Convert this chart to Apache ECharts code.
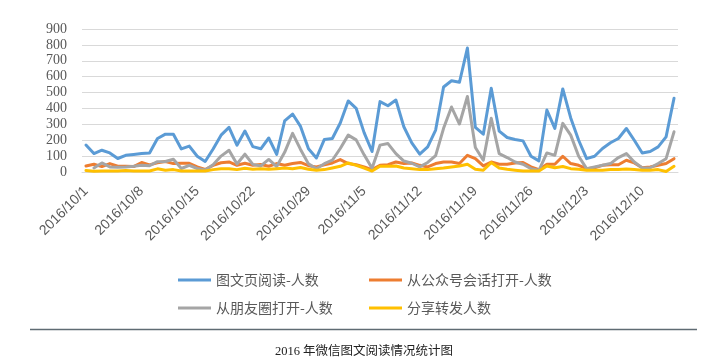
<!DOCTYPE html>
<html>
<head>
<meta charset="utf-8">
<script src="https://cdn.jsdelivr.net/npm/echarts@6/dist/echarts.min.js"></script>
<style>
html,body{margin:0;padding:0;background:#fff;}
#chart{width:721px;height:362px;}
</style>
</head>
<body>
<div id="chart"></div>
<script>
var categories = [
'2016/10/1','2016/10/2','2016/10/3','2016/10/4','2016/10/5','2016/10/6','2016/10/7','2016/10/8','2016/10/9','2016/10/10',
'2016/10/11','2016/10/12','2016/10/13','2016/10/14','2016/10/15','2016/10/16','2016/10/17','2016/10/18','2016/10/19','2016/10/20',
'2016/10/21','2016/10/22','2016/10/23','2016/10/24','2016/10/25','2016/10/26','2016/10/27','2016/10/28','2016/10/29','2016/10/30',
'2016/10/31','2016/11/1','2016/11/2','2016/11/3','2016/11/4','2016/11/5','2016/11/6','2016/11/7','2016/11/8','2016/11/9',
'2016/11/10','2016/11/11','2016/11/12','2016/11/13','2016/11/14','2016/11/15','2016/11/16','2016/11/17','2016/11/18','2016/11/19',
'2016/11/20','2016/11/21','2016/11/22','2016/11/23','2016/11/24','2016/11/25','2016/11/26','2016/11/27','2016/11/28','2016/11/29',
'2016/11/30','2016/12/1','2016/12/2','2016/12/3','2016/12/4','2016/12/5','2016/12/6','2016/12/7','2016/12/8','2016/12/9',
'2016/12/10','2016/12/11','2016/12/12','2016/12/13','2016/12/14'
];
var seriesNames = ['图文页阅读-人数','从公众号会话打开-人数','从朋友圈打开-人数','分享转发人数'];
var readers = [170,116,137,120,85,105,110,116,120,211, 238,238,145,163,99,66,145,232,281,169, 258,160,146,214,111,321,365,287,146,88, 205,211,308,447,401,248,129,443,417,453, 285,183,112,158,264,535,574,565,780,281, 238,527,257,217,205,196,99,70,390,274, 523,340,200,84,99,148,184,211,274,200, 120,129,158,221,464];
var fromSession = [38,49,34,53,36,36,34,60,45,58, 66,53,55,55,32,16,42,58,63,42, 55,42,47,36,53,42,53,60,40,32, 45,57,78,53,46,32,15,42,46,63, 53,57,42,32,53,63,63,53,105,84, 38,63,49,49,57,60,32,15,49,49, 99,53,42,21,27,42,46,46,74,57, 27,32,42,53,84];
var fromMoments = [null,25,57,32,30,32,36,42,40,65, 66,80,22,42,22,12,45,100,137,50, 112,48,38,79,34,124,243,142,51,20, 52,74,148,232,202,108,23,169,179,116, 69,55,32,60,103,275,409,302,475,154, 74,338,116,91,63,49,21,11,120,105, 306,232,99,21,32,42,53,91,116,63, 25,27,53,84,253];
var shares = [10,5,6,6,6,10,6,6,6,20, 11,15,6,6,6,6,15,21,21,15, 23,17,20,17,21,25,21,28,17,11, 15,25,36,57,42,25,6,36,36,38, 25,21,15,15,21,25,32,38,49,17, 11,59,25,17,11,6,6,6,38,27, 35,21,17,11,11,11,15,15,19,15, 11,11,15,3,36];
var yTicks = [0,100,200,300,400,500,600,700,800,900];
var caption = '2016 年微信图文阅读情况统计图';

var colors = ['#5b9bd5','#ed7d31','#a5a5a5','#ffc000'];
var values = [readers, fromSession, fromMoments, shares];

var chart = echarts.init(document.getElementById('chart'), null, {renderer:'canvas'});
var legendText = {fontSize:14, color:'#595959', fontFamily:'"Noto Sans CJK SC", sans-serif'};
var option = {
  animation:false,
  backgroundColor:'#ffffff',
  color: colors,
  grid:{left:82,right:43,top:29,bottom:190,outerBoundsMode:'none',containLabel:false},
  xAxis:{
    type:'category',
    data:categories,
    boundaryGap:true,
    axisLine:{show:true,lineStyle:{color:'#d9d9d9',width:1}},
    axisTick:{show:false},
    axisLabel:{interval:6,rotate:45,margin:17,fontSize:14,color:'#595959',fontFamily:'"Liberation Sans", sans-serif'},
    splitLine:{show:false}
  },
  yAxis:{
    type:'value',
    min:yTicks[0],
    max:yTicks[yTicks.length-1],
    interval:yTicks[1]-yTicks[0],
    axisLine:{show:false},
    axisTick:{show:false},
    axisLabel:{margin:15,fontSize:14,color:'#595959',fontFamily:'"Liberation Serif", serif'},
    splitLine:{lineStyle:{color:'#d9d9d9',width:1}}
  },
  legend:[
    {data:[seriesNames[0],seriesNames[2]],orient:'vertical',left:178,top:273,padding:0,itemWidth:33,itemHeight:14,itemGap:14,textStyle:legendText,icon:'path://M0,6 L33,6 L33,9 L0,9 Z'},
    {data:[seriesNames[1],seriesNames[3]],orient:'vertical',left:369,top:273,padding:0,itemWidth:33,itemHeight:14,itemGap:14,textStyle:legendText,icon:'path://M0,6 L33,6 L33,9 L0,9 Z'}
  ],
  series: seriesNames.map(function(n,i){
    return {name:n,type:'line',data:values[i],symbol:'none',showSymbol:false,
      connectNulls:false,
      lineStyle:{color:colors[i],width:3,join:'round',cap:'round'},
      itemStyle:{color:colors[i]}};
  }),
  graphic:[
    {type:'line',shape:{x1:30,y1:329.5,x2:697,y2:329.5},style:{stroke:'#5f6b73',lineWidth:1.5},silent:true},
    {type:'text',x:364,y:352,style:{text:caption,fill:'#222222',font:'12.5px "Liberation Serif", "Noto Sans CJK SC", serif',textAlign:'center',textVerticalAlign:'middle'},silent:true}
  ]
};
chart.setOption(option);
</script>
</body>
</html>
